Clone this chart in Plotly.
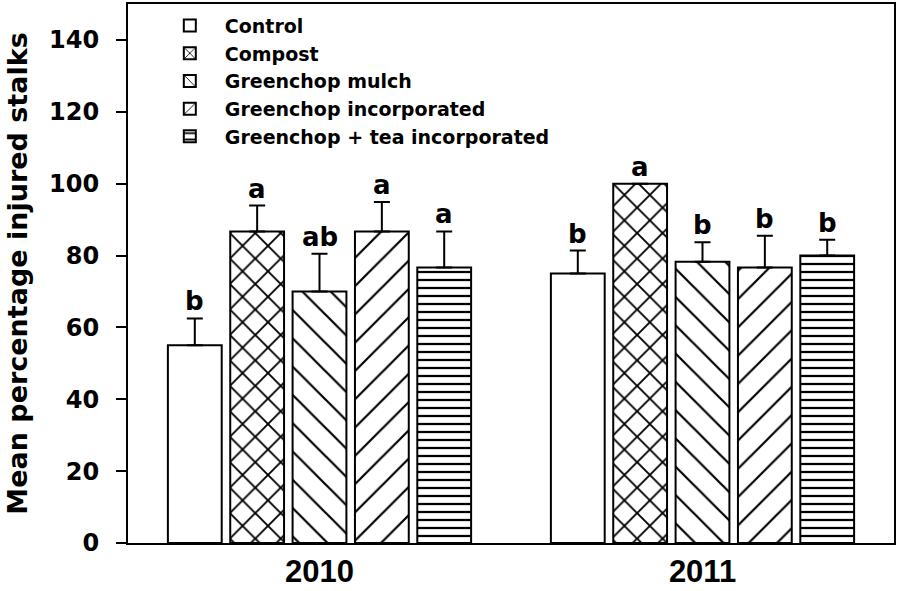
import plotly.graph_objects as go

# data
years = ['2010', '2011']
treatments = ['Control', 'Compost', 'Greenchop mulch', 'Greenchop incorporated',
              'Greenchop + tea incorporated']
means = {
    'Control': [55.0, 75.0],
    'Compost': [86.7, 100.0],
    'Greenchop mulch': [70.0, 78.3],
    'Greenchop incorporated': [86.7, 76.7],
    'Greenchop + tea incorporated': [76.7, 80.0],
}
errors = {
    'Control': [7.5, 6.4],
    'Compost': [7.2, 0.0],
    'Greenchop mulch': [10.5, 5.4],
    'Greenchop incorporated': [8.2, 8.8],
    'Greenchop + tea incorporated': [10.0, 4.4],
}
letters = {
    'Control': ['b', 'b'],
    'Compost': ['a', 'a'],
    'Greenchop mulch': ['ab', 'b'],
    'Greenchop incorporated': ['a', 'b'],
    'Greenchop + tea incorporated': ['a', 'b'],
}

patterns = {
    'Control': dict(shape=''),
    'Compost': dict(shape='x', size=18, solidity=0.2),
    'Greenchop mulch': dict(shape='\\', size=20, solidity=0.11),
    'Greenchop incorporated': dict(shape='/', size=20, solidity=0.11),
    'Greenchop + tea incorporated': dict(shape='-', size=8, solidity=0.28),
}

FONT = 'Liberation Sans, Arial, sans-serif'
WIDE = 'DejaVu Sans, Verdana, sans-serif'
bargap = 0.186

fig = go.Figure()
for t in treatments:
    pat = dict(fgcolor='black', bgcolor='white', fillmode='replace')
    pat.update(patterns[t])
    fig.add_trace(go.Bar(
        x=years,
        y=means[t],
        name=t,
        marker=dict(color='white', line=dict(color='black', width=2), pattern=pat),
        error_y=dict(type='data', array=errors[t], arrayminus=[0, 0], symmetric=False,
                     color='black', thickness=2, width=8),
    ))

# significance letters above the error bars
n = len(treatments)
slot = (1 - bargap) / n
for j, t in enumerate(treatments):
    for i, yr in enumerate(years):
        fig.add_annotation(
            x=i + (j - (n - 1) / 2) * slot,
            y=means[t][i] + errors[t][i],
            text=letters[t][i],
            showarrow=False,
            yanchor='bottom',
            yshift=0,
            font=dict(family=WIDE, size=26, color='black', weight='bold'),
        )

fig.update_layout(
    width=898,
    height=591,
    barmode='group',
    bargap=bargap,
    bargroupgap=0.137,
    plot_bgcolor='white',
    paper_bgcolor='white',
    margin=dict(l=128, r=2, t=4, b=48),
    font=dict(family=FONT, color='black'),
    showlegend=True,
    legend=dict(
        x=0.035, y=0.995, xanchor='left', yanchor='top',
        bgcolor='rgba(0,0,0,0)',
        font=dict(family=WIDE, size=19, color='black', weight='bold'),
        tracegroupgap=0,
        itemwidth=60,
    ),
    xaxis=dict(
        type='category',
        range=[-0.5, 1.5],
        showline=True, linecolor='black', linewidth=2, mirror=True,
        ticks='', showgrid=False,
        tickfont=dict(family=FONT, size=31, color='black', weight='bold'),
    ),
    yaxis=dict(
        range=[0, 150],
        tickvals=[0, 20, 40, 60, 80, 100, 120, 140],
        showline=True, linecolor='black', linewidth=2, mirror=True,
        ticks='outside', ticklen=10, tickwidth=2, tickcolor='black',
        ticklabelstandoff=12,
        showgrid=False, zeroline=False,
        tickfont=dict(family=WIDE, size=24, color='black', weight='bold'),
        title=dict(text='Mean percentage injured stalks', standoff=14,
                   font=dict(family=WIDE, size=27, color='black', weight='bold')),
    ),
)

fig.write_html("out.html", config={'displayModeBar': False},
               post_script="document.body.style.margin='0px';")
